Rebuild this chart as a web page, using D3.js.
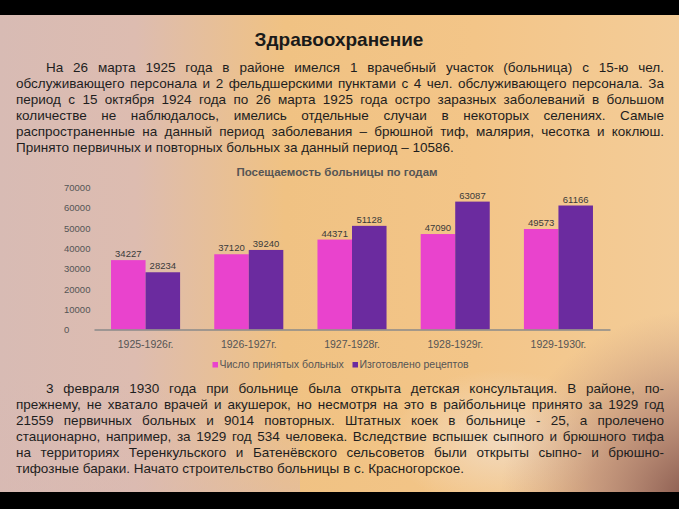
<!DOCTYPE html>
<html><head><meta charset="utf-8">
<script src="https://cdn.jsdelivr.net/npm/d3@7"></script>
<style>
html,body{margin:0;padding:0;background:#000;}
svg{display:block;}
</style></head>
<body>
<svg id="c" width="679" height="509"></svg>
<script>
// ---------- data ----------
const categories = ["1925-1926г.", "1926-1927г.", "1927-1928г.", "1928-1929г.", "1929-1930г."];
const seriesNames = ["Число принятых больных", "Изготовлено рецептов"];
const patients = [34227, 37120, 44371, 47090, 49573];
const prescriptions = [28234, 39240, 51128, 63087, 61166];
const yTicks = [0, 10000, 20000, 30000, 40000, 50000, 60000, 70000];
const pageTitle = "Здравоохранение";
const chartTitle = "Посещаемость больницы по годам";
const para1 = [
  "На 26 марта 1925 года в районе имелся 1 врачебный участок (больница) с 15-ю чел.",
  "обслуживающего персонала и 2 фельдшерскими пунктами с 4 чел. обслуживающего персонала. За",
  "период с 15 октября 1924 года по 26 марта 1925 года остро заразных заболеваний в большом",
  "количестве не наблюдалось, имелись отдельные случаи в некоторых селениях. Самые",
  "распространенные на данный период заболевания – брюшной тиф, малярия, чесотка и коклюш.",
  "Принято первичных и повторных больных за данный период – 10586."
];
const para2 = [
  "3 февраля 1930 года при больнице была открыта детская консультация. В районе, по-",
  "прежнему, не хватало врачей и акушерок, но несмотря на это в райбольнице принято за 1929 год",
  "21559 первичных больных и 9014 повторных.  Штатных коек в больнице - 25, а пролечено",
  "стационарно, например, за 1929 год 534 человека. Вследствие вспышек сыпного и брюшного тифа",
  "на территориях Теренкульского и Батенёвского сельсоветов были открыты сыпно- и брюшно-",
  "тифозные бараки. Начато строительство больницы в с. Красногорское."
];

// ---------- setup ----------
const W = 679, H = 509;
const svg = d3.select("#c");
const defs = svg.append("defs");

const lin = defs.append("linearGradient").attr("id", "bgLin").attr("x1", 0).attr("x2", 1).attr("y1", 0).attr("y2", 0);
[[0, "#d8bbb4"], [0.2, "#ddbcb0"], [0.42, "#f0c283"], [0.7, "#f3c588"], [1, "#f3cc98"]]
  .forEach(([o, c]) => lin.append("stop").attr("offset", o).attr("stop-color", c));

const glow = defs.append("radialGradient").attr("id", "glow").attr("cx", 0.5).attr("cy", 0.5).attr("r", 0.5);
glow.append("stop").attr("offset", 0).attr("stop-color", "#f2dcc4").attr("stop-opacity", 0.9);
glow.append("stop").attr("offset", 1).attr("stop-color", "#f2dcc4").attr("stop-opacity", 0);

const shade = defs.append("radialGradient").attr("id", "shade").attr("cx", 0.5).attr("cy", 0.5).attr("r", 0.5);
shade.append("stop").attr("offset", 0).attr("stop-color", "#7a4a42").attr("stop-opacity", 0.95);
shade.append("stop").attr("offset", 0.55).attr("stop-color", "#a87870").attr("stop-opacity", 0.55);
shade.append("stop").attr("offset", 1).attr("stop-color", "#c09080").attr("stop-opacity", 0);

const leftPink = defs.append("linearGradient").attr("id", "leftPink").attr("x1", 0).attr("x2", 0).attr("y1", 0).attr("y2", 1);
leftPink.append("stop").attr("offset", 0).attr("stop-color", "#d8b8b2").attr("stop-opacity", 0);
leftPink.append("stop").attr("offset", 1).attr("stop-color", "#d8b8b2").attr("stop-opacity", 0.5);

svg.append("rect").attr("width", W).attr("height", H).attr("fill", "url(#bgLin)");
svg.append("rect").attr("x", 0).attr("y", 380).attr("width", 300).attr("height", 129).attr("fill", "url(#leftPink)");
svg.append("ellipse").attr("cx", 500).attr("cy", 440).attr("rx", 110).attr("ry", 70).attr("fill", "url(#glow)");
svg.append("ellipse").attr("cx", 700).attr("cy", 500).attr("rx", 200).attr("ry", 190).attr("fill", "url(#shade)");
svg.append("rect").attr("x", 0).attr("y", 0).attr("width", W).attr("height", 15).attr("fill", "#000");
svg.append("rect").attr("x", 0).attr("y", 492).attr("width", W).attr("height", 17).attr("fill", "#000");

// ---------- text helpers ----------
const bodyFont = "'Liberation Sans', Arial, sans-serif";
function drawLine(g, str, x0, x1, y, justify, size) {
  const words = str.split(/\s+/).filter(w => w.length);
  const nodes = words.map(w => g.append("text").attr("y", y).attr("font-size", size)
    .attr("font-family", bodyFont).attr("fill", "#1e1e1e").text(w));
  const widths = nodes.map(n => n.node().getComputedTextLength());
  const total = d3.sum(widths);
  const probe = g.append("text").attr("font-size", size).attr("font-family", bodyFont).text("a a");
  const probe2 = g.append("text").attr("font-size", size).attr("font-family", bodyFont).text("aa");
  const space = probe.node().getComputedTextLength() - probe2.node().getComputedTextLength();
  probe.remove(); probe2.remove();
  const gap = justify && words.length > 1 ? (x1 - x0 - total) / (words.length - 1) : space;
  let x = x0;
  nodes.forEach((n, i) => { n.attr("x", x); x += widths[i] + gap; });
}
function drawPara(lines, yStart, lh, size) {
  const g = svg.append("g");
  lines.forEach((l, i) => {
    drawLine(g, l, i === 0 ? 46 : 16, 664, yStart + i * lh, i < lines.length - 1, size);
  });
}

svg.append("text").attr("x", 339).attr("y", 46).attr("text-anchor", "middle")
  .attr("font-family", bodyFont).attr("font-weight", "bold").attr("font-size", 19)
  .attr("fill", "#1a1a1a").text(pageTitle);

drawPara(para1, 72, 16, 13.5);
drawPara(para2, 393, 16, 13.5);

// ---------- chart ----------
const x0 = d3.scaleBand().domain(categories).range([94, 610]).paddingInner(0.331).paddingOuter(0.165);
const x1 = d3.scaleBand().domain([0, 1]).range([0, x0.bandwidth()]);
const y = d3.scaleLinear().domain([0, 70000]).range([329.5, 187.6]);
const colors = ["#e943cd", "#6b2b9f"];
const series = [patients, prescriptions];
const chartFont = "'Liberation Sans', Arial, sans-serif";

svg.append("text").attr("x", 337).attr("y", 176).attr("text-anchor", "middle")
  .attr("font-family", chartFont).attr("font-weight", "bold").attr("font-size", 11.5)
  .attr("fill", "#555").text(chartTitle);

const yAxis = svg.append("g").attr("transform", "translate(64,0)")
  .call(d3.axisLeft(y).tickValues(yTicks).tickSize(0).tickFormat(d3.format("d")));
yAxis.select(".domain").remove();
yAxis.selectAll("text").attr("x", 0).attr("text-anchor", "start")
  .attr("font-family", chartFont).attr("font-size", 9.5).attr("fill", "#555");

const groups = svg.append("g").selectAll("g").data(categories).join("g")
  .attr("transform", d => `translate(${x0(d)},0)`);
series.forEach((vals, s) => {
  groups.append("rect")
    .attr("x", x1(s)).attr("width", x1.bandwidth())
    .attr("y", (d, i) => y(vals[i])).attr("height", (d, i) => y(0) - y(vals[i]))
    .attr("fill", colors[s]);
  groups.append("text")
    .attr("x", x1(s) + x1.bandwidth() / 2).attr("y", (d, i) => y(vals[i]) - 3)
    .attr("text-anchor", "middle").attr("font-family", chartFont).attr("font-size", 9.5)
    .attr("fill", "#3a3a3a").text((d, i) => vals[i]);
});

const xAxis = svg.append("g").attr("transform", `translate(0,${y(0)})`)
  .call(d3.axisBottom(x0).tickSize(0).tickSizeOuter(0).tickPadding(11));
xAxis.select(".domain").attr("stroke", "#8a8a8a").attr("stroke-width", 1.5);
xAxis.selectAll("text").attr("font-family", chartFont).attr("font-size", 10.5).attr("fill", "#555");

// legend
const legendX = [212.5, 352.5];
const lg = svg.append("g");
seriesNames.forEach((n, i) => {
  lg.append("rect").attr("x", legendX[i]).attr("y", 362).attr("width", 5.5).attr("height", 5.5).attr("fill", colors[i]);
  lg.append("text").attr("x", legendX[i] + 7).attr("y", 368).attr("font-family", chartFont)
    .attr("font-size", 10.5).attr("fill", "#555").text(n);
});
</script>
</body></html>
